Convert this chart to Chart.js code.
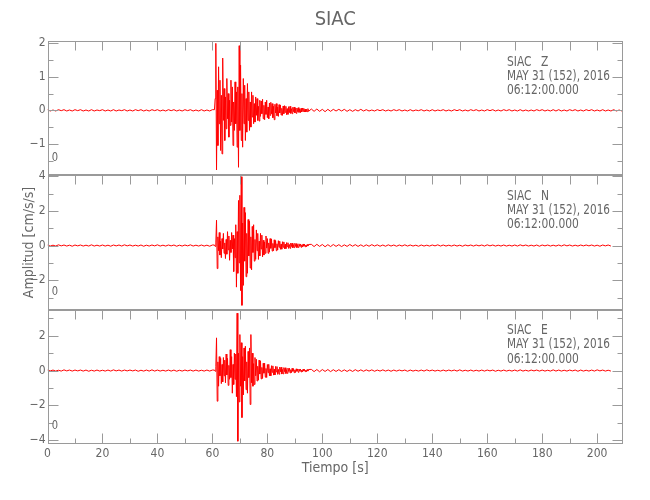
<!DOCTYPE html>
<html><head><meta charset="utf-8">
<script src="https://cdn.jsdelivr.net/npm/chart.js@4.4.0/dist/chart.umd.min.js"></script>
<style>html,body{margin:0;padding:0;background:#fff;}</style>
</head><body>
<canvas id="c" width="650" height="500"></canvas>
<script>
// ---------- data ----------
const station = 'SIAC';
const components = ['Z', 'N', 'E'];
const dateLine = 'MAY 31 (152), 2016';
const timeLine = '06:12:00.000';
const offsetLabel = '0';
const xTitle = 'Tiempo [s]';
const yTitle = 'Amplitud [cm/s/s]';

// time sampling of the three stored segments (seconds)
const preStart = 0, preStep = 1;
const eventStart = 60.75, eventStep = 0.25;
const postStart = 96, postStep = 1;

// axis ranges
const xMin = 0, xMax = 209.4, xStep = 10, xLabelEvery = 20;
const yMin = [-1.94, -3.7, -4.22];
const yMax = [2.07, 4.05, 3.5];
const yStep = [0.5, 1, 1];
const yLabelEvery = [1, 2, 2];

// ---- Z component ----
const zPre = [0.02,-0.02,0.01,-0.02,0.02,-0.01,0.02,-0.02,0.01,-0.02,
0.02,-0.01,0.02,-0.02,0.01,-0.02,0.02,-0.02,0.01,-0.01,
0.02,-0.02,0.01,-0.02,0.02,-0.02,0.01,-0.01,0.02,-0.02,
0.01,-0.02,0.02,-0.01,0.02,-0.02,0.01,-0.02,0.02,-0.01,
0.02,-0.02,0.01,-0.02,0.02,-0.01,0.02,-0.02,0.01,-0.02,
0.02,-0.01,0.02,-0.02,0.01,-0.02,0.02,-0.02,0.01,-0.02,
0.02];
const zEvent = [0.02,0.35,2.00,-1.78,0.60,-1.05,1.30,-0.40,0.90,-1.20,0.45,-1.30,
1.56,-0.30,0.65,-0.90,0.40,-0.55,0.95,-0.25,0.50,-0.80,
0.30,-0.45,0.90,-0.35,0.70,-1.05,0.25,-0.60,0.85,-0.40,
0.55,-1.10,0.70,-1.70,1.93,-0.60,1.35,-0.90,0.50,-1.10,
0.95,-0.40,0.75,-0.90,0.35,-0.65,0.80,-0.30,0.55,-0.60,
0.25,-0.50,0.55,-0.20,0.45,-0.40,0.20,-0.35,0.40,-0.15,
0.35,-0.30,0.12,-0.32,0.30,-0.18,0.28,-0.10,0.33,-0.25,
0.15,-0.28,0.25,-0.12,0.30,-0.22,0.10,-0.25,0.22,-0.15,
0.24,-0.10,0.20,-0.22,0.12,-0.28,0.18,-0.08,0.20,-0.16,
0.10,-0.18,0.17,-0.08,0.16,-0.14,0.06,-0.15,0.13,-0.10,
0.14,-0.06,0.12,-0.13,0.05,-0.12,0.11,-0.07,0.12,-0.09,
0.05,-0.10,0.09,-0.04,0.10,-0.08,0.06,-0.09,0.07,-0.04,
0.08,-0.06,0.04,-0.07,0.06,-0.05,0.07,-0.03,0.06,-0.05,
0.04,-0.05,0.03,-0.04,0.05,-0.03];
const zPost = [0.04,-0.03,0.04,-0.03,0.03,-0.04,0.03,-0.03,0.03,-0.02,
0.03,-0.02,0.03,-0.03,0.02,-0.03,0.02,-0.02,0.03,-0.02,
0.02,-0.02,0.01,-0.02,0.02,-0.01,0.02,-0.02,0.01,-0.02,
0.02,-0.01,0.02,-0.02,0.01,-0.02,0.02,-0.02,0.01,-0.01,
0.02,-0.02,0.01,-0.02,0.02,-0.02,0.01,-0.01,0.02,-0.02,
0.01,-0.02,0.02,-0.01,0.02,-0.02,0.01,-0.02,0.02,-0.01,
0.02,-0.02,0.01,-0.02,0.02,-0.01,0.02,-0.02,0.01,-0.02,
0.02,-0.01,0.02,-0.02,0.01,-0.02,0.02,-0.02,0.01,-0.02,
0.01,-0.02,0.02,-0.01,0.02,-0.02,0.01,-0.02,0.02,-0.02,
0.02,-0.02,0.01,-0.02,0.02,-0.01,0.02,-0.02,0.01,-0.02,
0.02,-0.01,0.02,-0.02,0.01,-0.02,0.02,-0.02,0.01,-0.02,
0.02,-0.02,0.01,-0.02];

// ---- N component ----
const nPre = [0.03,-0.03,0.02,-0.03,0.04,-0.02,0.03,-0.03,0.02,-0.04,
0.03,-0.02,0.03,-0.03,0.02,-0.03,0.04,-0.03,0.02,-0.03,
0.03,-0.03,0.02,-0.04,0.03,-0.02,0.03,-0.03,0.04,-0.02,
0.03,-0.03,0.02,-0.03,0.03,-0.04,0.02,-0.03,0.03,-0.02,
0.04,-0.03,0.02,-0.03,0.03,-0.02,0.03,-0.04,0.02,-0.03,
0.03,-0.02,0.04,-0.03,0.02,-0.03,0.03,-0.03,0.02,-0.04,
0.03];
const nEvent = [0.03,-0.05,0.20,1.46,-1.33,0.50,-0.30,0.75,-0.55,0.25,-0.70,0.40,
-0.20,0.70,-0.45,0.15,-0.75,0.35,-0.50,0.80,-0.25,0.55,
-0.85,0.30,-0.40,0.75,-0.20,0.60,-1.50,0.40,-0.70,1.20,
-2.40,0.80,-1.60,2.60,-1.00,2.90,-2.60,3.97,-3.45,1.30,
-2.30,2.20,-0.90,1.90,-1.80,0.70,-1.60,1.50,-0.60,1.40,
-1.30,0.50,-1.40,1.10,-0.40,1.20,-0.90,0.35,-0.80,0.90,
-0.30,0.70,-0.80,0.25,-0.60,0.70,-0.20,0.60,-0.65,0.30,
-0.55,0.20,-0.45,0.55,-0.15,0.40,-0.45,0.15,-0.38,0.40,
-0.16,0.38,-0.32,0.12,-0.30,0.33,-0.12,0.28,-0.30,0.10,
-0.26,0.28,-0.10,0.25,-0.22,0.08,-0.21,0.22,-0.10,0.21,
-0.19,0.08,-0.18,0.17,-0.07,0.16,-0.17,0.06,-0.16,0.14,
-0.06,0.14,-0.13,0.05,-0.12,0.13,-0.05,0.11,-0.12,0.05,
-0.11,0.10,-0.04,0.09,-0.10,0.04,-0.08,0.09,-0.04,0.08,
-0.07,0.03,-0.07,0.06,-0.03,0.06];
const nPost = [0.07,-0.06,0.07,-0.05,0.06,-0.07,0.05,-0.06,0.06,-0.05,
0.05,-0.06,0.04,-0.05,0.06,-0.04,0.05,-0.05,0.04,-0.05,
0.04,-0.04,0.05,-0.03,0.04,-0.04,0.03,-0.04,0.04,-0.03,
0.03,-0.04,0.03,-0.03,0.04,-0.03,0.03,-0.03,0.02,-0.04,
0.03,-0.03,0.02,-0.03,0.03,-0.02,0.04,-0.03,0.03,-0.03,
0.02,-0.03,0.03,-0.03,0.02,-0.04,0.03,-0.02,0.03,-0.03,
0.03,-0.02,0.03,-0.03,0.04,-0.02,0.03,-0.03,0.02,-0.03,
0.03,-0.03,0.02,-0.03,0.03,-0.03,0.04,-0.02,0.03,-0.03,
0.02,-0.03,0.03,-0.04,0.03,-0.02,0.03,-0.03,0.02,-0.03,
0.03,-0.03,0.04,-0.02,0.03,-0.03,0.02,-0.03,0.03,-0.02,
0.03,-0.02,0.03,-0.03,0.02,-0.04,0.03,-0.02,0.03,-0.03];

// ---- E component ----
const ePre = [0.03,-0.02,0.03,-0.03,0.02,-0.03,0.04,-0.02,0.03,-0.03,
0.03,-0.02,0.03,-0.03,0.03,-0.04,0.02,-0.03,0.03,-0.03,
0.02,-0.03,0.03,-0.03,0.04,-0.02,0.03,-0.03,0.03,-0.02,
0.03,-0.02,0.03,-0.04,0.02,-0.03,0.03,-0.03,0.04,-0.03,
0.03,-0.03,0.02,-0.03,0.03,-0.03,0.03,-0.04,0.02,-0.03,
0.03,-0.02,0.03,-0.03,0.03,-0.03,0.02,-0.03,0.03,-0.03,
0.03];
const eEvent = [0.03,-0.04,0.25,1.88,-1.76,0.50,-0.90,0.80,-0.30,0.70,-0.75,0.35,
-0.65,0.75,-0.30,0.60,-0.70,0.95,-0.25,0.70,-0.85,0.30,
-0.50,1.20,-0.40,0.80,-1.30,0.35,-0.80,1.00,-0.50,0.95,
-1.50,3.30,-4.06,1.00,-1.80,2.07,-0.90,1.60,-2.70,0.80,
-1.40,1.30,-0.60,1.40,-1.10,0.50,-1.30,1.10,-0.40,1.30,
-1.95,2.07,-0.70,1.00,-0.90,0.40,-0.80,0.75,-0.30,0.65,
-0.60,0.25,-0.55,0.60,-0.20,0.55,-0.48,0.18,-0.45,0.42,
-0.15,0.42,-0.38,0.12,-0.40,0.35,-0.12,0.36,-0.30,0.10,
-0.30,0.28,-0.10,0.27,-0.26,0.08,-0.25,0.24,-0.08,0.23,
-0.22,0.07,-0.21,0.20,-0.07,0.19,-0.20,0.06,-0.19,0.17,
-0.06,0.16,-0.17,0.05,-0.16,0.14,-0.05,0.14,-0.13,0.05,
-0.12,0.13,-0.04,0.11,-0.12,0.04,-0.11,0.10,-0.04,0.09,
-0.10,0.09,-0.03,0.09,-0.08,0.03,-0.07,0.08,-0.03,0.07,
-0.06,0.03,-0.06,0.06,-0.03,0.06];
const ePost = [0.07,-0.06,0.06,-0.07,0.06,-0.05,0.06,-0.06,0.05,-0.05,
0.05,-0.05,0.04,-0.05,0.04,-0.05,0.05,-0.04,0.04,-0.04,
0.04,-0.03,0.04,-0.04,0.03,-0.03,0.04,-0.03,0.03,-0.04,
0.03,-0.03,0.03,-0.02,0.03,-0.04,0.03,-0.03,0.02,-0.03,
0.03,-0.03,0.04,-0.02,0.03,-0.03,0.02,-0.03,0.03,-0.03,
0.03,-0.02,0.03,-0.03,0.04,-0.03,0.02,-0.03,0.03,-0.03,
0.02,-0.03,0.03,-0.03,0.03,-0.02,0.03,-0.04,0.02,-0.03,
0.03,-0.03,0.02,-0.03,0.03,-0.03,0.04,-0.03,0.02,-0.03,
0.03,-0.02,0.03,-0.03,0.03,-0.03,0.02,-0.03,0.04,-0.03,
0.03,-0.03,0.02,-0.03,0.03,-0.02,0.03,-0.04,0.03,-0.03,
0.02,-0.03,0.03,-0.03,0.04,-0.02,0.03,-0.03,0.02,-0.03];

// ---------- build ----------
function buildTrace(pre, ev, post) {
  const pts = [];
  pre.forEach((v, i) => pts.push({x: preStart + i * preStep, y: v}));
  ev.forEach((v, i) => pts.push({x: +(eventStart + i * eventStep).toFixed(3), y: v}));
  post.forEach((v, i) => pts.push({x: postStart + i * postStep, y: v}));
  return pts;
}
const traces = [buildTrace(zPre, zEvent, zPost), buildTrace(nPre, nEvent, nPost), buildTrace(ePre, eEvent, ePost)];
const axisIds = ['yZ', 'yN', 'yE'];

const FONT = "'Liberation Sans Narrow', 'DejaVu Sans Condensed', 'Liberation Sans', sans-serif";
const TEXT = '#666666';
const AXIS = '#9a9a9a';
Chart.defaults.font.family = FONT;
Chart.defaults.color = TEXT;

function fmt(v) { return v < 0 ? '\u2212' + Math.abs(v) : String(v); }

function yScale(k) {
  const o = {
    type: 'linear', position: 'left', stack: 'traces', stackWeight: 1,
    min: yMin[k], max: yMax[k],
    grid: {display: false, drawTicks: false},
    border: {display: false},
    afterFit(s) { s.width = 47.5; },
    ticks: {
      stepSize: yStep[k], includeBounds: false, autoSkip: false, padding: 2,
      color: TEXT, font: {size: 12},
      callback: (v) => (Math.abs(v / yLabelEvery[k] - Math.round(v / yLabelEvery[k])) < 1e-6) ? fmt(Math.round(v)) : ''
    }
  };
  if (k === 1) {
    o.title = {display: true, text: yTitle, color: TEXT, font: {size: 14}, padding: {top: 21, bottom: 0}};
  }
  return o;
}

function condensedText(ctx, text, x, y, sx) {
  ctx.save();
  ctx.translate(x, y);
  ctx.scale(sx, 1);
  ctx.fillText(text, 0, 0);
  ctx.restore();
}

const framePlugin = {
  id: 'frame',
  afterDatasetsDraw(chart) {
    const ctx = chart.ctx, ca = chart.chartArea, xs = chart.scales.x;
    const L = Math.round(ca.left) + 0.5, R = Math.round(ca.right) - 0.5;
    ctx.save();
    ctx.strokeStyle = AXIS; ctx.lineWidth = 1;
    const seg = (x1, y1, x2, y2) => { ctx.beginPath(); ctx.moveTo(x1, y1); ctx.lineTo(x2, y2); ctx.stroke(); };
    axisIds.forEach((id, k) => {
      const ys = chart.scales[id];
      const T = Math.round(ys.top) + 0.5, B = Math.round(ys.bottom) - 0.5;
      ctx.strokeRect(L, T, R - L, B - T);
      ys.ticks.forEach(t => {
        const y = Math.round(ys.getPixelForValue(t.value)) + 0.5;
        const len = t.label ? 10 : 5;
        seg(L, y, L + len, y);
        seg(R, y, R - len, y);
      });
      xs.ticks.forEach(t => {
        const x = Math.round(xs.getPixelForValue(t.value)) + 0.5;
        if (x <= L + 1 || x >= R - 1) return;
        seg(x, T, x, T + 9);
        if (k === axisIds.length - 1) seg(x, B, x, B - (t.label ? 10 : 5));
      });
      // annotations
      ctx.fillStyle = TEXT;
      ctx.font = "14px " + FONT;
      ctx.textAlign = 'left'; ctx.textBaseline = 'middle';
      const tx = ca.right - 116;
      condensedText(ctx, station, tx, ys.top + 21, 0.85);
      condensedText(ctx, components[k], tx + 34, ys.top + 21, 0.85);
      condensedText(ctx, dateLine, tx, ys.top + 35, 0.83);
      condensedText(ctx, timeLine, tx, ys.top + 49.5, 0.85);
      ctx.font = "13px " + FONT;
      ctx.textAlign = 'center';
      condensedText(ctx, offsetLabel, ca.left + 7.5, ys.bottom - 18, 0.85);
    });
    ctx.restore();
  }
};

new Chart(document.getElementById('c'), {
  type: 'line',
  data: {
    datasets: traces.map((d, k) => ({
      label: station + ' ' + components[k],
      data: d, yAxisID: axisIds[k],
      borderColor: '#ff0000', borderWidth: 1, pointRadius: 0, tension: 0, fill: false
    }))
  },
  options: {
    responsive: false, animation: false, parsing: false, normalized: true,
    layout: {padding: {left: 0, right: 27, top: 0, bottom: 0}},
    plugins: {
      legend: {display: false}, tooltip: {enabled: false},
      title: {display: true, text: station, fullSize: false, color: TEXT,
              font: {size: 20, weight: 'normal'}, padding: {top: 8, bottom: 9}}
    },
    scales: {
      x: {
        type: 'linear', position: 'bottom', min: xMin, max: xMax,
        grid: {display: false, drawTicks: false}, border: {display: false},
        afterFit(s) { s.height = 56; },
        ticks: {stepSize: xStep, includeBounds: false, autoSkip: false, maxRotation: 0, padding: 3,
                color: TEXT, font: {size: 12},
                callback: (v) => (v % xLabelEvery === 0) ? String(v) : ''},
        title: {display: true, text: xTitle, color: TEXT, font: {size: 14}, padding: {top: 0, bottom: 23}}
      },
      yE: yScale(2),
      yN: yScale(1),
      yZ: yScale(0)
    }
  },
  plugins: [framePlugin]
});
</script>
</body></html>
